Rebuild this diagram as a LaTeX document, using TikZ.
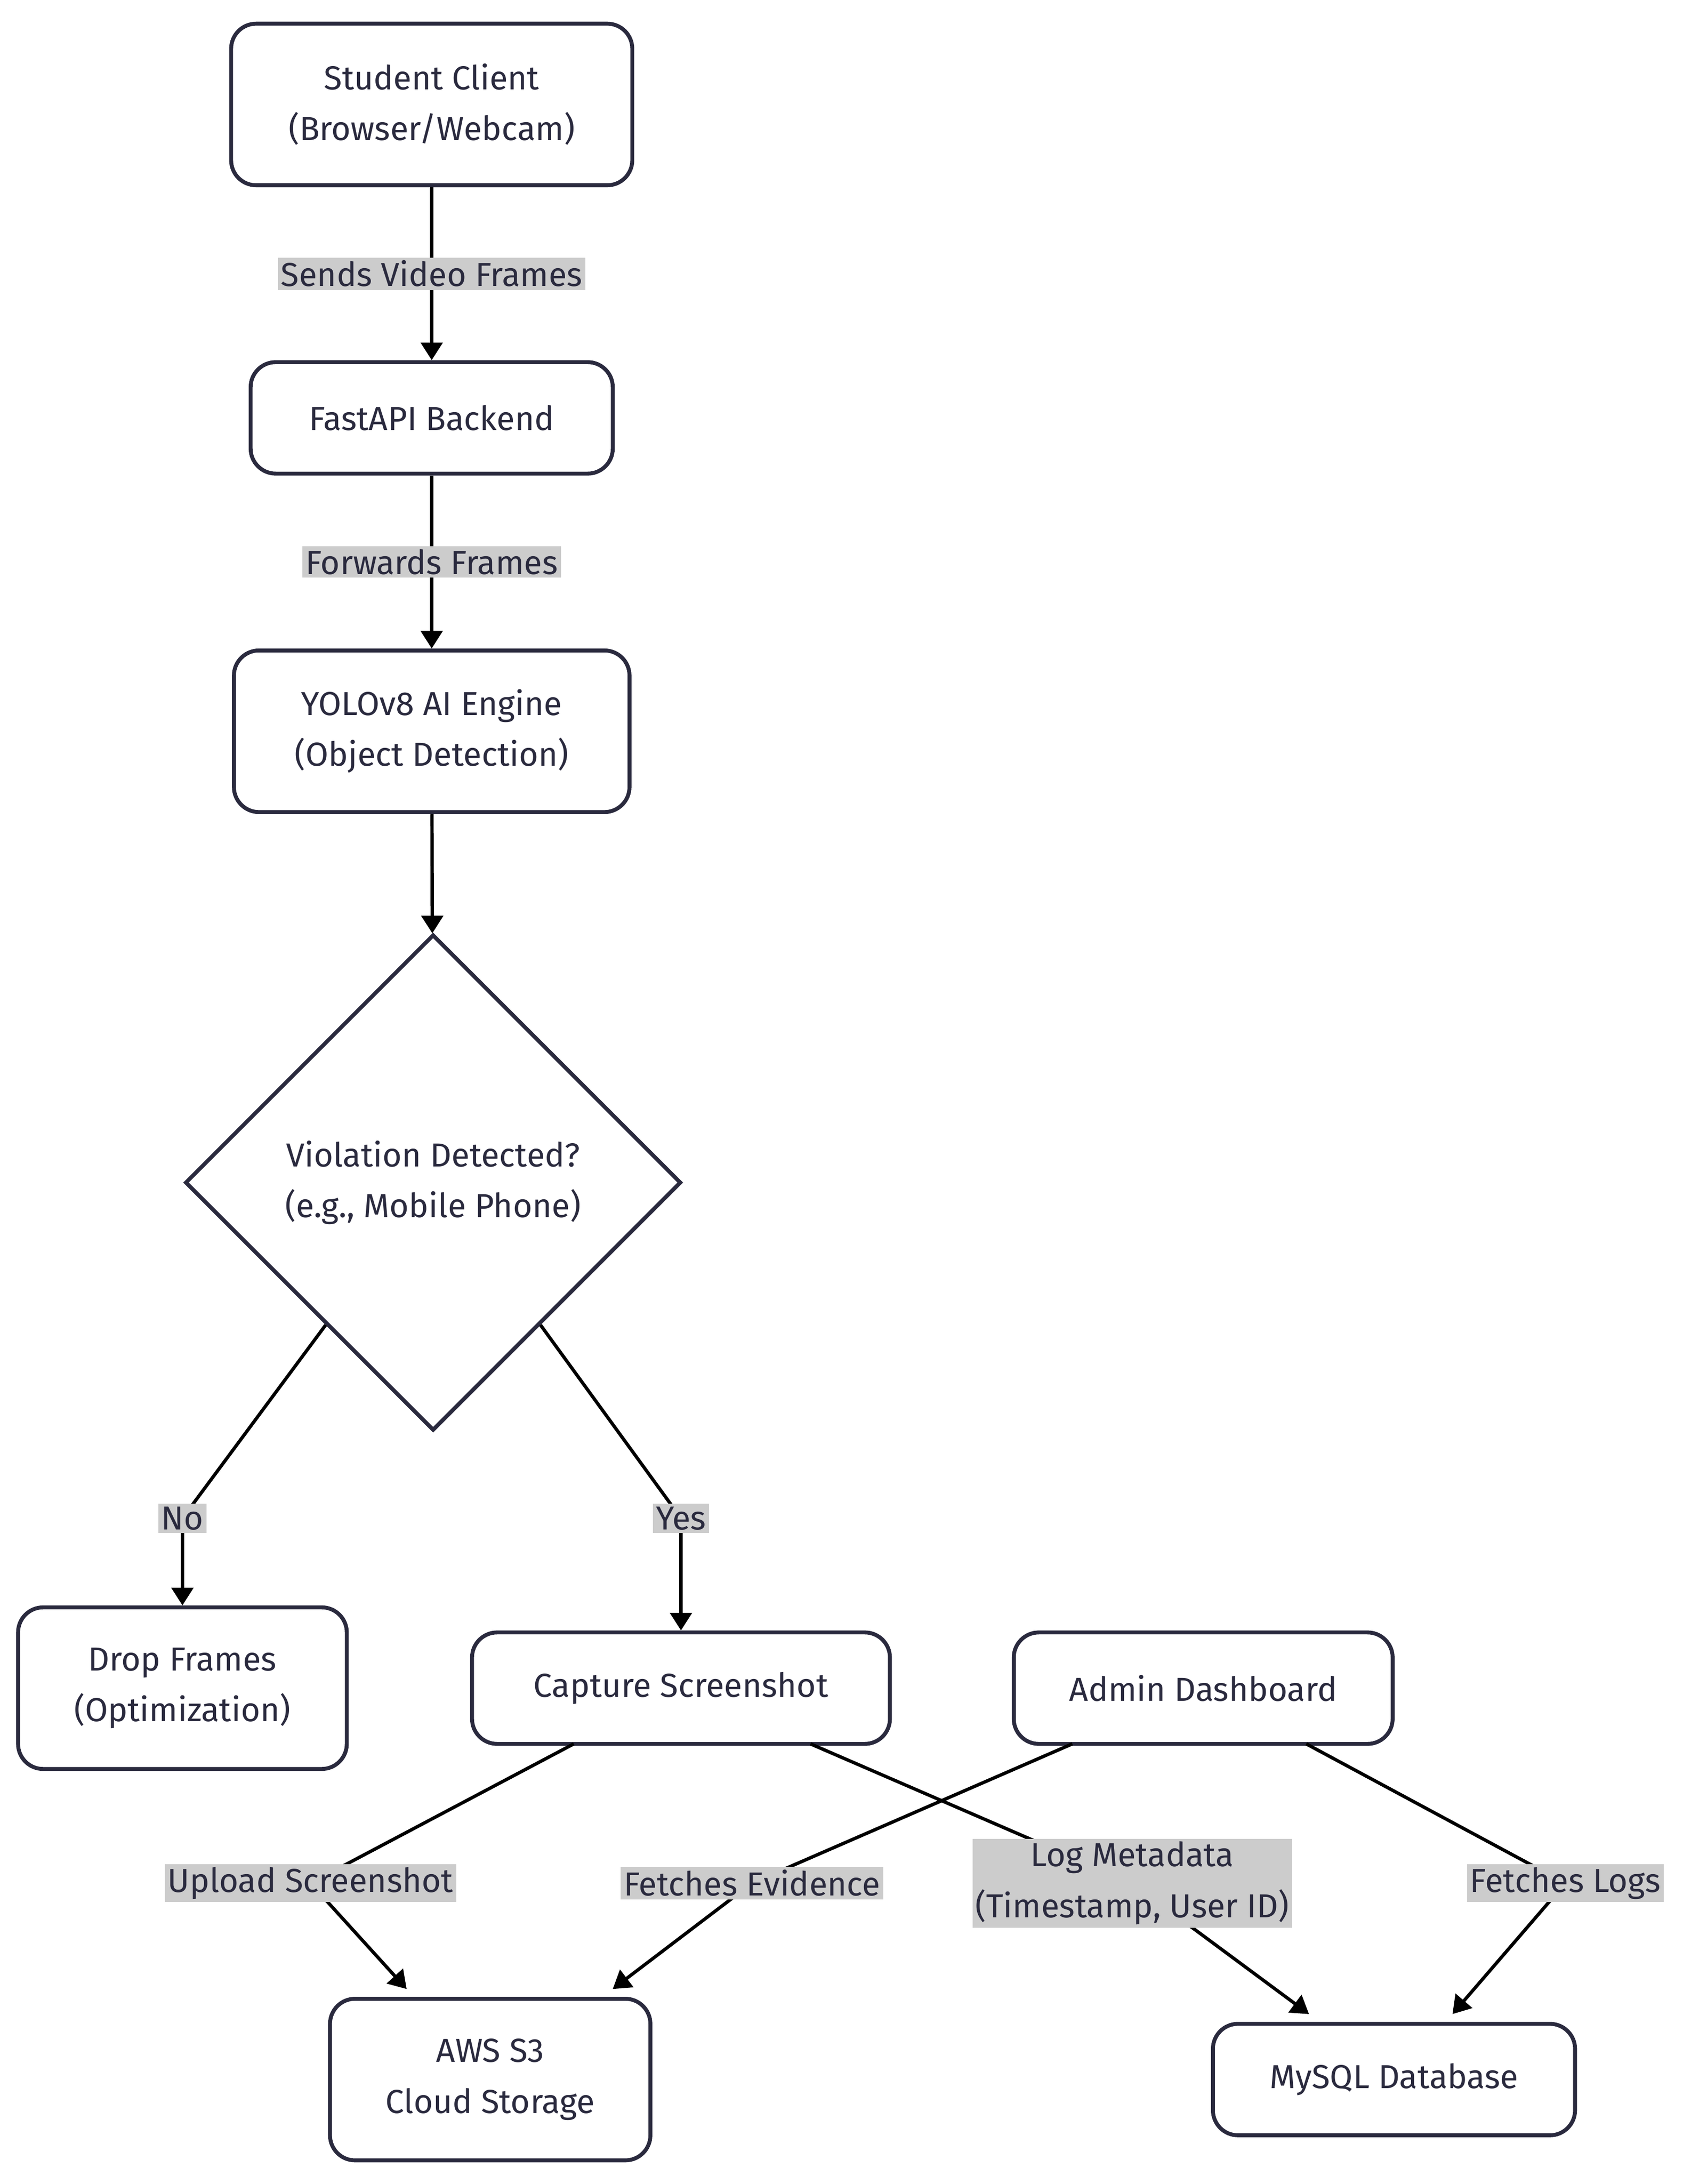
\documentclass[tikz,border=0pt]{standalone}
\usepackage{fontspec}
\setmainfont{Fira Sans}
\usetikzlibrary{shapes.geometric,arrows.meta,calc}
\definecolor{ink}{HTML}{2A2A3E}
\definecolor{lblgray}{HTML}{CCCCCC}
\begin{document}
\begin{tikzpicture}[x=0.025cm,y=-0.025cm,
  font=\fontsize{17}{26}\selectfont\color{ink},
  box/.style={draw=ink,line width=2pt,rounded corners=0.45cm,fill=white,align=center,inner sep=0pt},
  lbl/.style={fill=lblgray,align=center,inner sep=1.5pt,text=ink},
  link/.style={line width=1.7pt,-{Triangle[length=9pt,width=11pt]}},
  plain/.style={line width=1.7pt}]
\useasboundingbox (0,0) rectangle (1220,1568);
% nodes
\node[box,minimum width=7.2cm,minimum height=2.9cm] (client) at (310,75) {Student Client\\(Browser/Webcam)};
\node[box,minimum width=6.5cm,minimum height=2cm] (api) at (310,300) {FastAPI Backend};
\node[box,minimum width=7.1cm,minimum height=2.9cm] (yolo) at (310,525) {YOLOv8 AI Engine\\(Object Detection)};
\node[draw=ink,line width=2pt,diamond,aspect=1,minimum size=8.9cm,inner sep=0pt,align=center] (check) at (311,849) {Violation Detected?\\(e.g., Mobile Phone)};
\node[box,minimum width=5.9cm,minimum height=2.9cm] (drop) at (131,1212) {Drop Frames\\(Optimization)};
\node[box,minimum width=7.5cm,minimum height=2cm] (shot) at (489,1212) {Capture Screenshot};
\node[box,minimum width=6.8cm,minimum height=2cm] (admin) at (864,1212) {Admin Dashboard};
\node[box,minimum width=5.75cm,minimum height=2.9cm] (s3) at (352,1493) {AWS S3\\Cloud Storage};
\node[box,minimum width=6.5cm,minimum height=2cm] (db) at (1001,1493) {MySQL Database};
% bend points
\coordinate (noBend) at (131,1090);
\coordinate (yesBend) at (489,1090);
\coordinate (upBend) at (223,1352);
\coordinate (logBend) at (813,1352);
\coordinate (evBend) at (540,1352);
\coordinate (fetchBend) at (1124,1352);
% connectors
\draw[link] (client) -- (api) node[lbl,pos=0.5] {Sends Video Frames};
\draw[link] (api) -- (yolo) node[lbl,pos=0.5] {Forwards Frames};
\draw[link] (yolo) -- (check);
\draw[plain] ($(check.west)!0.57!(check.south)$) -- (noBend);
\draw[link] (noBend) -- (drop);
\node[lbl] at (noBend) {No};
\draw[plain] ($(check.east)!0.57!(check.south)$) -- (yesBend);
\draw[link] (yesBend) -- (shot);
\node[lbl] at (yesBend) {Yes};
\draw[plain] (412,1252) -- (upBend);
\draw[link] (upBend) -- (292,1428);
\draw[plain] (582,1252) -- (logBend);
\draw[link] (logBend) -- (940,1446);
\draw[plain] (770,1252) -- (evBend);
\draw[link] (evBend) -- (440,1428);
\draw[plain] (938,1252) -- (fetchBend);
\draw[link] (fetchBend) -- (1043,1446);
\node[lbl] at (upBend) {Upload Screenshot};
\node[lbl] at (evBend) {Fetches Evidence};
\node[lbl] at (logBend) {Log Metadata\\(Timestamp, User ID)};
\node[lbl] at (fetchBend) {Fetches Logs};
\end{tikzpicture}
\end{document}
